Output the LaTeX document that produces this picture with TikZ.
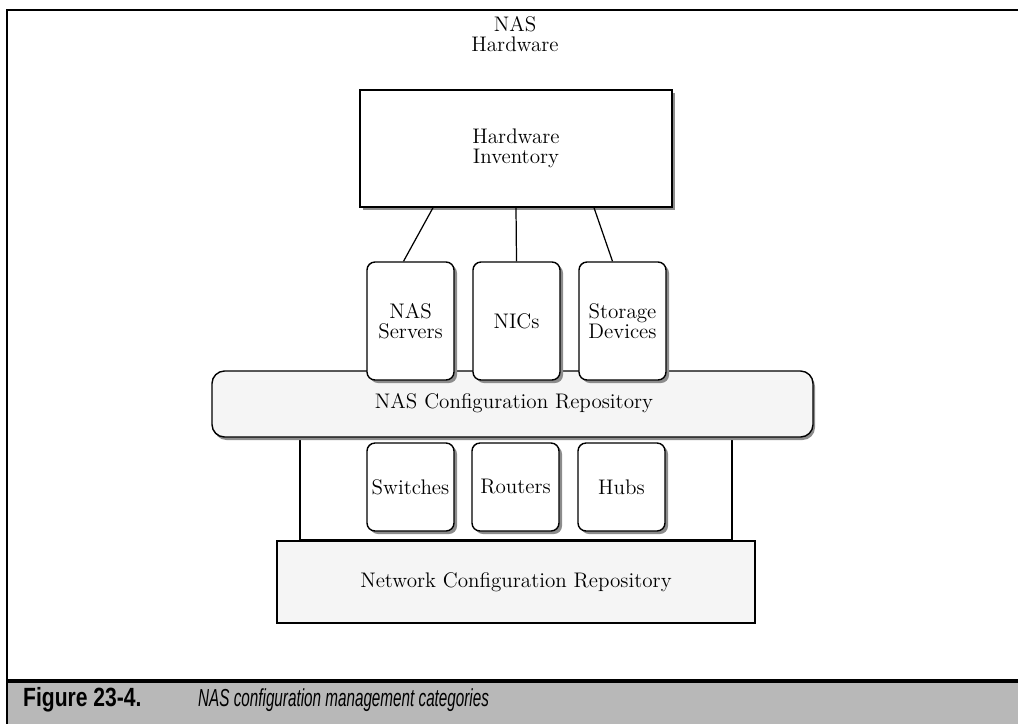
\documentclass[tikz,border=0pt]{standalone}
\usepackage{fontspec}
\newfontfamily\capfont{Liberation Sans}
\usetikzlibrary{shadows}

\begin{document}
\begin{tikzpicture}[
        box/.style={rectangle, draw, line width=0.8pt, align=center, inner sep=0pt,
            font=\fontsize{12}{11.5}\selectfont},
        unit/.style={box, rounded corners=0.16cm, fill=white, minimum width=1.74cm,
            drop shadow={shadow xshift=0.06cm, shadow yshift=-0.06cm, fill=black!45, opacity=1}},
        repo/.style={box, fill=black!4}
    ]
    \useasboundingbox (0, 0) rectangle (20.36, -14.48);

    % page frame and caption strip
    \fill[black!28] (0.14, -13.64) rectangle (20.36, -14.48);
    \draw[line width=1.1pt] (20.36, -0.2) -- (0.14, -0.2) -- (0.14, -14.48);
    \draw[line width=2.4pt] (0.14, -13.62) -- (20.36, -13.62);
    \node[anchor=west, font=\capfont\bfseries\fontsize{15}{16}\selectfont] (fignum) at (0.34, -14.0)
        {\scalebox{0.8}[1]{Figure 23-4.}};
    \node[anchor=west, font=\capfont\itshape\fontsize{14}{15}\selectfont] (figtitle) at (3.84, -14.0)
        {\scalebox{0.62}[1]{NAS configuration management categories}};

    % hardware
    \node[font=\fontsize{12}{11.5}\selectfont, align=center] (hwlabel) at (10.30, -0.68) {NAS\\Hardware};
    \node[box, minimum width=6.24cm, minimum height=2.34cm,
        drop shadow={shadow xshift=0.06cm, shadow yshift=-0.06cm, fill=black!45, opacity=1}, fill=white]
        (hwinv) at (10.32, -2.97) {Hardware\\Inventory};

    % network layer
    \node[box, minimum width=8.64cm, minimum height=2.14cm] (netframe) at (10.32, -9.73) {};
    \node[repo, minimum width=9.56cm, minimum height=1.64cm] (netrepo) at (10.32, -11.64) {Network Configuration Repository};

    % nas layer
    \node[repo, rounded corners=0.25cm, minimum width=12.02cm, minimum height=1.32cm,
        drop shadow={shadow xshift=0.04cm, shadow yshift=-0.06cm, fill=black!45, opacity=1}]
        (nasrepo) at (10.25, -8.08) {};
    \node[font=\fontsize{12}{11.5}\selectfont] (naslabel) at (10.28, -8.06) {NAS Configuration Repository};

    \node[unit, minimum height=2.36cm] (servers) at (8.21, -6.42) {NAS\\Servers};
    \node[unit, minimum height=2.36cm] (nics) at (10.33, -6.42) {NICs};
    \node[unit, minimum height=2.36cm] (storage) at (12.45, -6.42) {Storage\\Devices};

    \node[unit, minimum height=1.76cm] (switches) at (8.21, -9.74) {Switches};
    \node[unit, minimum height=1.76cm] (routers) at (10.31, -9.74) {Routers};
    \node[unit, minimum height=1.76cm] (hubs) at (12.43, -9.74) {Hubs};

    \draw[line width=0.7pt] ([xshift=-1.66cm]hwinv.south) -- ([xshift=-0.14cm]servers.north);
    \draw[line width=0.7pt] (hwinv.south) -- (nics.north);
    \draw[line width=0.7pt] ([xshift=1.56cm]hwinv.south) -- ([xshift=-0.2cm]storage.north);
\end{tikzpicture}
\end{document}
